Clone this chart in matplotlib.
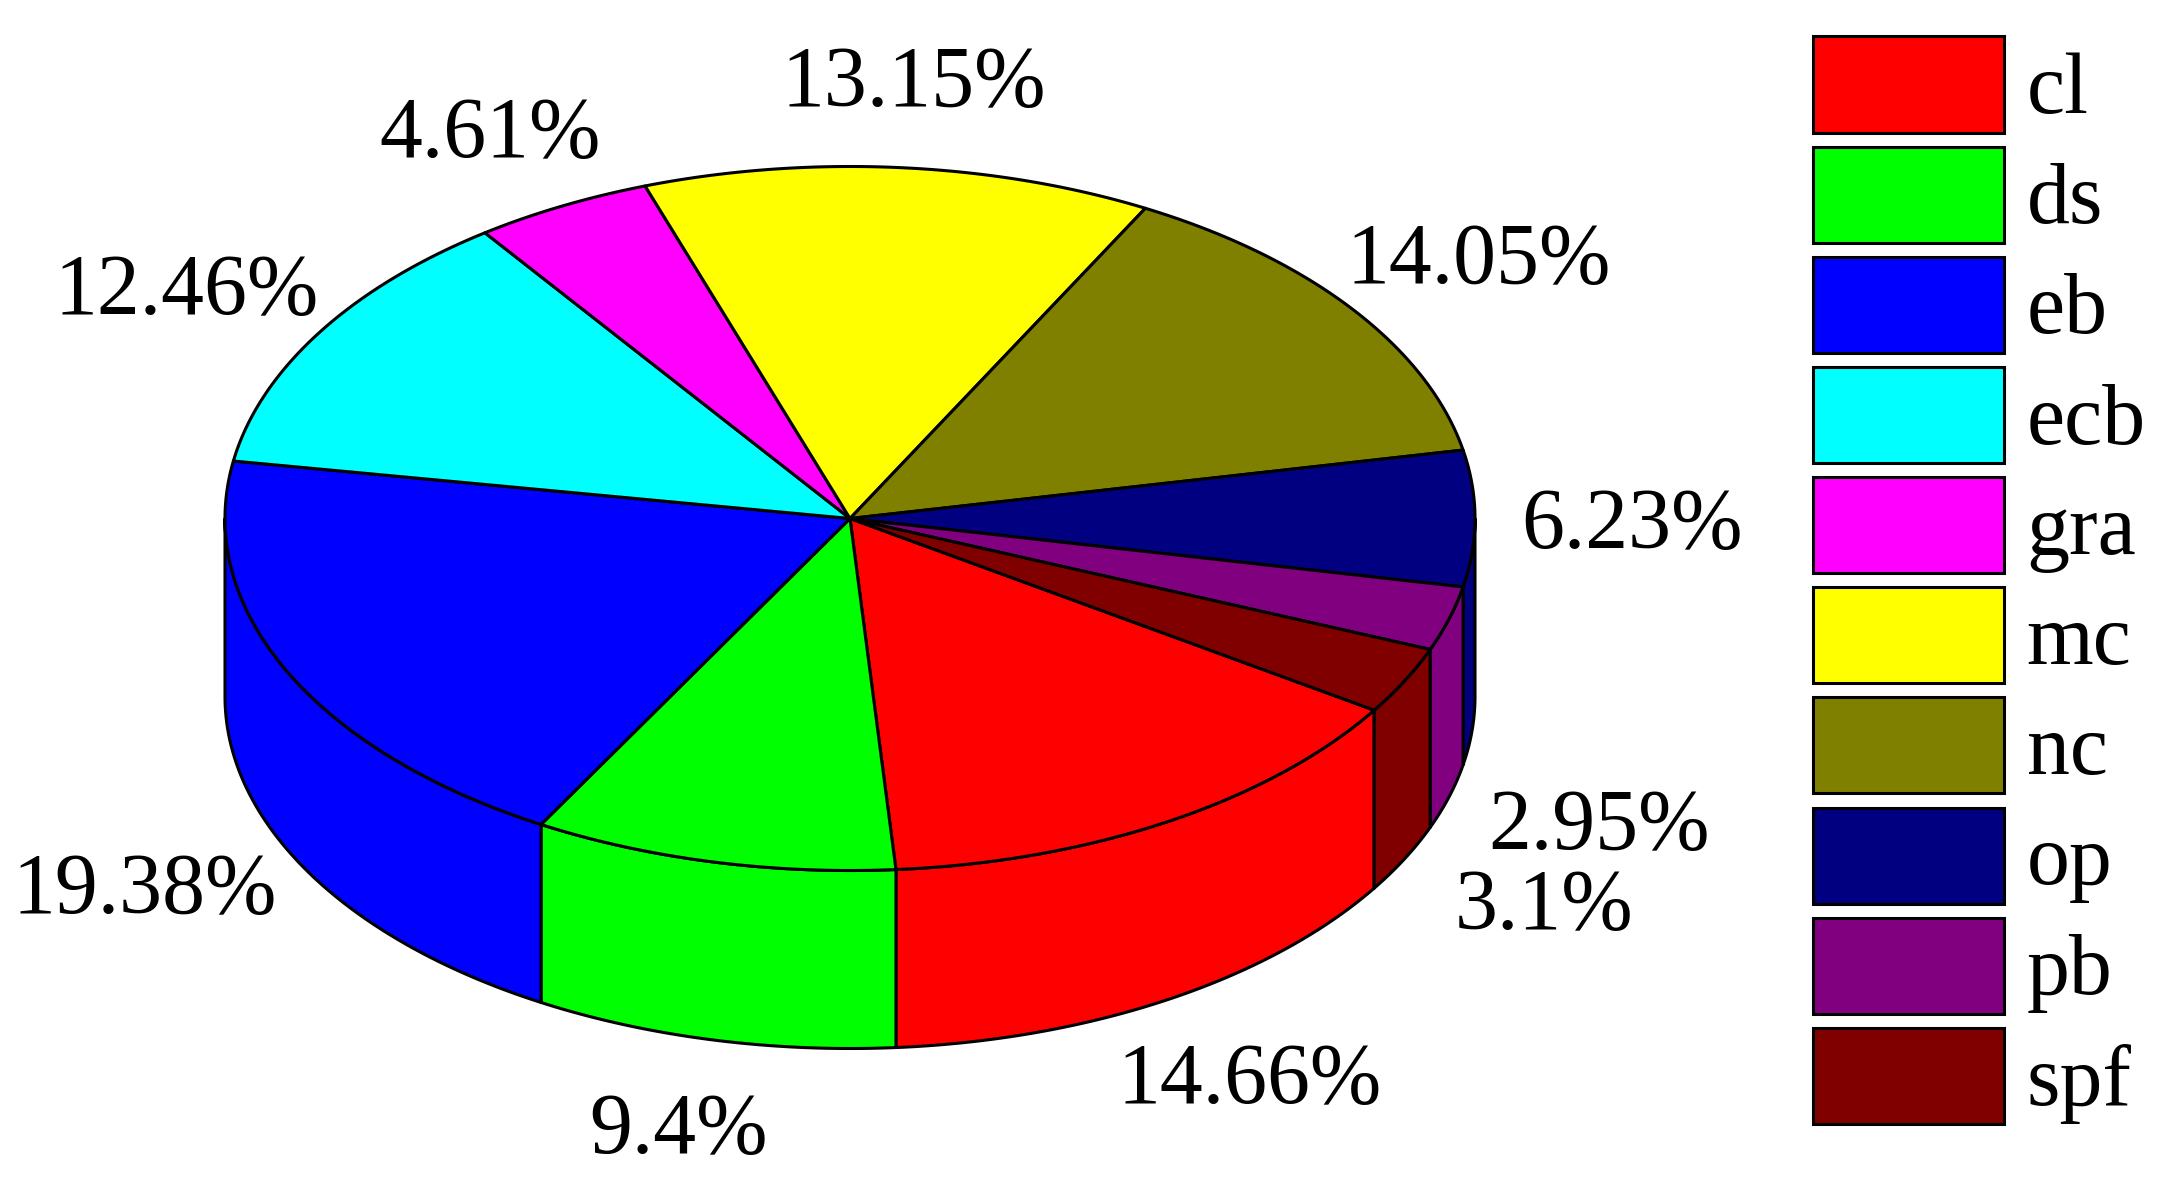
import numpy as np
import matplotlib
matplotlib.use("Agg")
import matplotlib.pyplot as plt
from matplotlib.patches import Polygon, Patch

plt.rcParams['font.family'] = ['Liberation Serif', 'DejaVu Serif']

### Data ###

names = ['cl', 'ds', 'eb', 'ecb', 'gra', 'mc', 'nc', 'op', 'pb', 'spf']
percents = [14.66, 9.4, 19.38, 12.46, 4.61, 13.15, 14.05, 6.23, 2.95, 3.1]
colors = ['#ff0000', '#00ff00', '#0000ff', '#00ffff', '#ff00ff',
          '#ffff00', '#808000', '#000080', '#800080', '#800000']

# label anchor centres in pixels of the full size picture
label_x = [1250, 678, 145, 187, 490, 914, 1479, 1632, 1599, 1544]
label_y = [1082, 1132, 892, 293, 136, 85, 262, 527, 828, 908]

### Geometry ###

cx, cy = 850, 518.5      # centre of the top face
rx, ry = 625, 352        # radii of the top ellipse
depth = 178              # height of the side wall
start = -33.0            # where the first slice starts, degrees, going clockwise
edge_lw = 2.2
font_size = 61.8

fig = plt.figure(figsize=(21.8, 11.91), dpi=100)
ax = fig.add_axes([0, 0, 1, 1])
ax.set_xlim(0, 2180)
ax.set_ylim(1191, 0)
ax.axis('off')

def rim(a0, a1):
    t = np.radians(np.linspace(a0, a1, 200))
    return cx + rx*np.cos(t), cy - ry*np.sin(t)

fractions = np.array(percents)/sum(percents)
edges = start - 360*np.concatenate([[0], np.cumsum(fractions)])

# side walls: only the front half of the rim (-180..0 deg) is visible
# slices past -360 have gone right round, so try them shifted by a full turn too
for i in range(len(names)):
    for shift in (0, 360):
        a0, a1 = edges[i] + shift, edges[i+1] + shift
        lo = max(a1, -180)
        hi = min(a0, 0)
        if lo >= hi:
            continue
        x, y = rim(hi, lo)
        pts = np.column_stack([np.r_[x, x[::-1]], np.r_[y, y[::-1] + depth]])
        ax.add_patch(Polygon(pts, closed=True, fc=colors[i], ec='black', lw=edge_lw, joinstyle='round'))

# top faces
for i in range(len(names)):
    x, y = rim(edges[i], edges[i+1])
    pts = np.column_stack([np.r_[cx, x], np.r_[cy, y]])
    ax.add_patch(Polygon(pts, closed=True, fc=colors[i], ec='black', lw=edge_lw, joinstyle='round'))

for i in range(len(names)):
    ax.text(label_x[i], label_y[i], f'{percents[i]:g}%', fontsize=font_size,
            ha='center', va='center', color='black')

handles = [Patch(fc=c, ec='black', lw=edge_lw) for c in colors]
ax.legend(handles, names, loc='upper left', bbox_to_anchor=(1813/2180, 1 - 36.5/1191),
          frameon=False, fontsize=font_size, handlelength=2.23, handleheight=1.345,
          labelspacing=0.164, handletextpad=0.26, borderpad=0, borderaxespad=0)

fig.savefig('out.png', dpi=100)
